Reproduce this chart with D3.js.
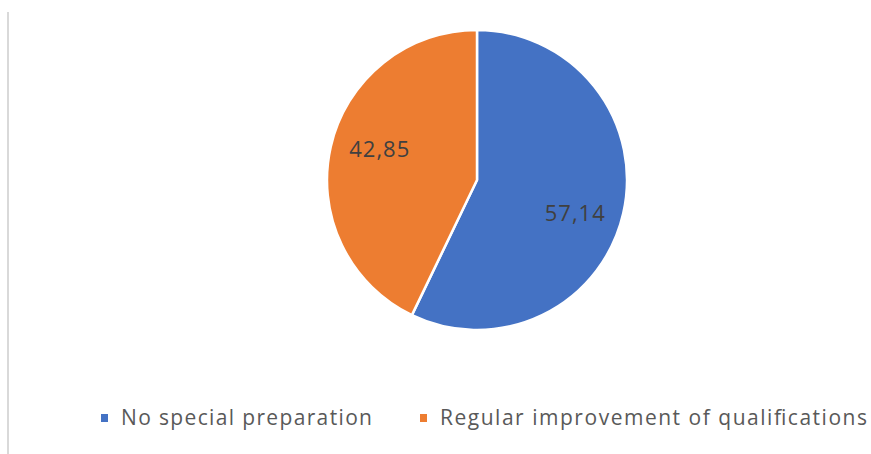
<!DOCTYPE html>
<html>
<head>
<meta charset="utf-8">
<script src="https://cdn.jsdelivr.net/npm/d3@7"></script>
<style>
  body { margin: 0; background: #fff; }
  text { font-family: "Open Sans", "Noto Sans", sans-serif; }
</style>
</head>
<body>
<div id="chart"></div>
<script>
var svgWidth = 871;
var svgHeight = 454;

// data
var categories = ["No special preparation", "Regular improvement of qualifications"];
var values = [57.14, 42.85];
var valueLabels = ["57,14", "42,85"];
var colors = ["#4472C4", "#ED7D31"];

var cx = 477;
var cy = 180;
var radius = 150;
var labelRadius = 103;
var labelTurn = 0.096; // labels sit a little clockwise of slice middle

var svg = d3.select("#chart")
  .append("svg")
  .attr("width", svgWidth)
  .attr("height", svgHeight);

// left border line
svg.append("line")
  .attr("x1", 8).attr("x2", 8)
  .attr("y1", 12).attr("y2", svgHeight)
  .attr("stroke", "#d9d9d9")
  .attr("stroke-width", 2);

var pie = d3.pie().sort(null).value(d => d);
var arcs = pie(values);

var arc = d3.arc().innerRadius(0).outerRadius(radius);

function labelPos(d) {
  var a = (d.startAngle + d.endAngle) / 2 + labelTurn;
  return [labelRadius * Math.sin(a), -labelRadius * Math.cos(a)];
}

var pieGroup = svg.append("g")
  .attr("transform", `translate(${cx}, ${cy})`);

pieGroup.selectAll("path")
  .data(arcs)
  .enter()
  .append("path")
  .attr("d", arc)
  .attr("fill", (d, i) => colors[i])
  .attr("stroke", "#fff")
  .attr("stroke-width", 2.5)
  .attr("stroke-linejoin", "round");

// data labels
pieGroup.selectAll("text.value")
  .data(arcs)
  .enter()
  .append("text")
  .attr("class", "value")
  .attr("x", d => labelPos(d)[0])
  .attr("y", d => labelPos(d)[1])
  .attr("text-anchor", "middle")
  .attr("dominant-baseline", "central")
  .attr("font-size", 22)
  .attr("fill", "#404040")
  .attr("textLength", 60)
  .attr("lengthAdjust", "spacing")
  .text((d, i) => valueLabels[i]);

// legend
var legendX = [101, 420];
var legendWidths = [251, 427];
var legend = svg.append("g")
  .attr("transform", "translate(0, 417)");

var items = legend.selectAll("g")
  .data(categories)
  .enter()
  .append("g")
  .attr("transform", (d, i) => `translate(${legendX[i]}, 0)`);

items.append("rect")
  .attr("x", 0)
  .attr("y", -3)
  .attr("width", 7)
  .attr("height", 8)
  .attr("fill", (d, i) => colors[i]);

items.append("text")
  .attr("x", 20)
  .attr("y", 0)
  .attr("dominant-baseline", "central")
  .attr("font-size", 21)
  .attr("fill", "#595959")
  .attr("textLength", (d, i) => legendWidths[i])
  .attr("lengthAdjust", "spacing")
  .text(d => d);
</script>
</body>
</html>
